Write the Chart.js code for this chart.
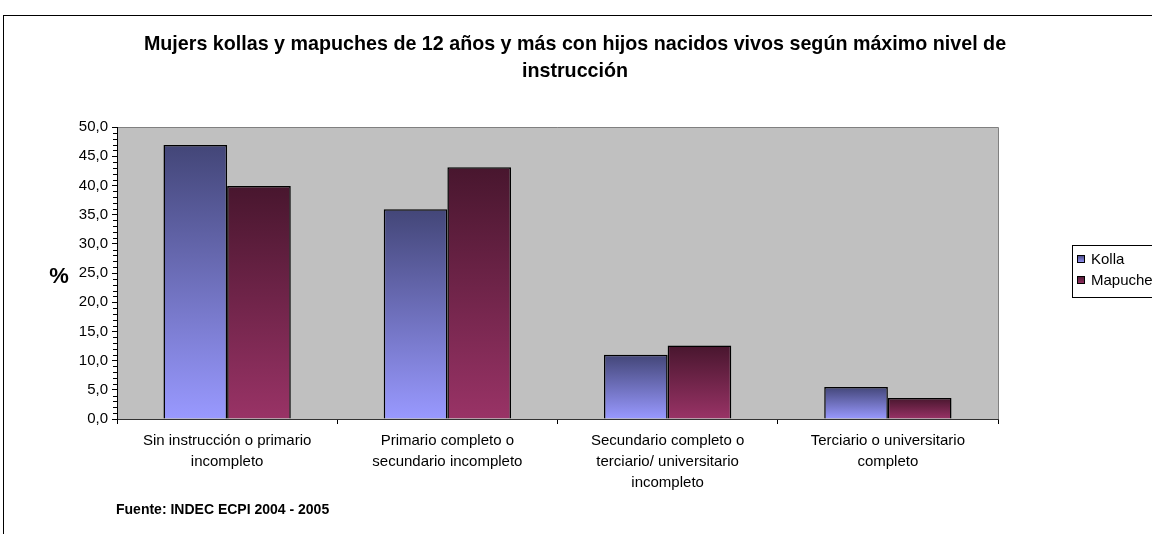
<!DOCTYPE html>
<html>
<head>
<meta charset="utf-8">
<script src="https://cdn.jsdelivr.net/npm/chart.js@4/dist/chart.umd.min.js"></script>
<style>
  html, body { margin: 0; padding: 0; background: #fff; }
  #wrap { width: 1152px; height: 534px; }
</style>
</head>
<body>
<div id="wrap"><canvas id="chart" width="1152" height="534"></canvas></div>
<script>
// data
const categories = [
  ['Sin instrucción o primario', 'incompleto'],
  ['Primario completo o', 'secundario incompleto'],
  ['Secundario completo o', 'terciario/ universitario', 'incompleto'],
  ['Terciario o universitario', 'completo']
];
const kolla = [46.9, 35.9, 11.0, 5.5];
const mapuche = [39.9, 43.1, 12.6, 3.6];
const seriesNames = ['Kolla', 'Mapuche'];
const titleLines = ['Mujers kollas y mapuches de 12 años y más con hijos nacidos vivos según máximo nivel de', 'instrucción'];
const sourceNote = 'Fuente: INDEC ECPI 2004 - 2005';

const FONT = '"Liberation Sans", Arial, sans-serif';

// per-bar vertical gradient (dark on top, light at the base)
function barGradient(top, bottom) {
  return function (ctx) {
    const chart = ctx.chart;
    if (ctx.type !== 'data' || !chart.chartArea) return bottom;
    const y = chart.scales.y;
    const y0 = y.getPixelForValue(ctx.raw);
    const y1 = y.getPixelForValue(0);
    const g = chart.ctx.createLinearGradient(0, y0, 0, y1);
    g.addColorStop(0, top);
    g.addColorStop(1, bottom);
    return g;
  };
}

const decor = {
  id: 'decor',
  beforeDraw(chart) {
    const { ctx, chartArea: a } = chart;
    ctx.save();
    ctx.fillStyle = '#c0c0c0';
    ctx.fillRect(a.left, a.top, a.right - a.left, a.bottom - a.top);
    ctx.strokeStyle = '#808080';
    ctx.lineWidth = 1;
    ctx.beginPath();
    ctx.moveTo(a.left, a.top + 0.5);
    ctx.lineTo(a.right + 0.5, a.top + 0.5);
    ctx.lineTo(a.right + 0.5, a.bottom);
    ctx.stroke();
    ctx.restore();
  },
  afterDraw(chart) {
    const { ctx, chartArea: a } = chart;
    const y = chart.scales.y;
    ctx.save();
    // outer frame
    ctx.strokeStyle = '#000';
    ctx.lineWidth = 1;
    ctx.strokeRect(3.5, 15.5, 1300, 700);

    // minor ticks
    ctx.beginPath();
    for (let v = 1; v < 50; v++) {
      if (v % 5 === 0) continue;
      const py = Math.round(y.getPixelForValue(v)) + 0.5;
      ctx.moveTo(a.left - 4, py);
      ctx.lineTo(a.left, py);
    }
    ctx.stroke();

    // title
    ctx.fillStyle = '#000';
    ctx.textAlign = 'center';
    ctx.textBaseline = 'middle';
    ctx.font = 'bold 19.7px ' + FONT;
    titleLines.forEach((t, i) => ctx.fillText(t, 575, 45 + i * 27));

    // axis unit
    ctx.font = 'bold 22px ' + FONT;
    ctx.fillText('%', 59, 277);

    // source
    ctx.textAlign = 'left';
    ctx.font = 'bold 14px ' + FONT;
    ctx.fillText(sourceNote, 116, 510);

    // legend
    ctx.strokeStyle = '#000';
    ctx.strokeRect(1072.5, 245.5, 120, 52);
    ctx.font = '15px ' + FONT;
    const swatch = [['#444478', '#9999ff'], ['#4a1830', '#993366']];
    chart.data.datasets.forEach((ds, i) => {
      const cy = 259 + i * 21;
      const g = ctx.createLinearGradient(0, cy - 4, 0, cy + 4);
      g.addColorStop(0, swatch[i][0]);
      g.addColorStop(1, swatch[i][1]);
      ctx.fillStyle = g;
      ctx.fillRect(1077, cy - 4, 8, 8);
      ctx.strokeRect(1077.5, cy - 3.5, 7, 7);
      ctx.fillStyle = '#000';
      ctx.fillText(ds.label, 1091, cy + 1);
    });
    ctx.restore();
  }
};

new Chart(document.getElementById('chart'), {
  type: 'bar',
  data: {
    labels: categories,
    datasets: [
      {
        label: seriesNames[0],
        data: kolla,
        backgroundColor: barGradient('#434678', '#9999ff'),
        borderColor: '#000',
        borderWidth: 1.5
      },
      {
        label: seriesNames[1],
        data: mapuche,
        backgroundColor: barGradient('#48162e', '#993366'),
        borderColor: '#000',
        borderWidth: 1.5
      }
    ]
  },
  options: {
    responsive: false,
    animation: false,
    layout: { padding: { left: 57, top: 127, right: 154, bottom: 0 } },
    datasets: { bar: { categoryPercentage: 0.578, barPercentage: 1 } },
    plugins: {
      legend: { display: false },
      title: { display: false },
      tooltip: { enabled: false }
    },
    scales: {
      x: {
        afterFit(s) { s.height = 115; },
        grid: { offset: true, drawOnChartArea: false, tickLength: 5, color: '#000' },
        border: { color: '#333' },
        ticks: {
          color: '#000',
          padding: 7,
          maxRotation: 0,
          autoSkip: false,
          font: { family: FONT, size: 15, lineHeight: 1.37 }
        }
      },
      y: {
        min: 0,
        max: 50,
        afterFit(s) { s.width = 60; },
        grid: { drawOnChartArea: false, tickLength: 5, color: '#000' },
        border: { color: '#000' },
        ticks: {
          stepSize: 5,
          color: '#000',
          padding: 4,
          font: { family: FONT, size: 15 },
          callback: v => v.toFixed(1).replace('.', ',')
        }
      }
    }
  },
  plugins: [decor]
});
</script>
</body>
</html>
